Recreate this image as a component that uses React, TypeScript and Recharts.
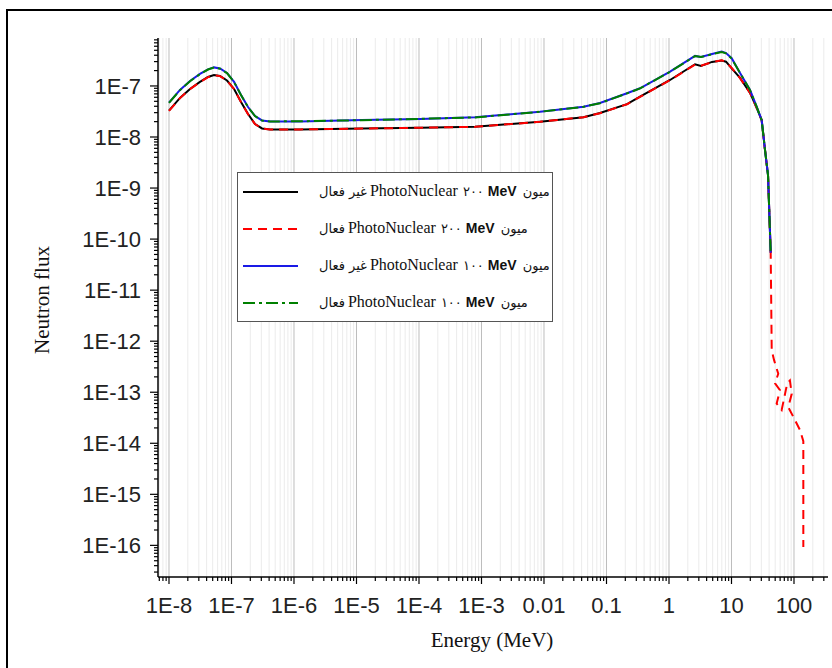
import React from "react";
import { LineChart, Line, XAxis, YAxis, CartesianGrid, Legend } from "recharts";

// Shared energy grid (MeV) for the four main curves
const energyMeV = [
  1.0e-8, 1.5e-8, 2.17e-8, 3.13e-8, 4.21e-8, 5.25e-8, 6.55e-8, 8.47e-8, 1.1e-7, 1.42e-7,
  1.84e-7, 2.38e-7, 3.08e-7, 4.13e-7, 1.25e-6, 1.22e-5, 1.04e-4, 7.87e-4, 8.63e-3,
  4.29e-2, 7.87e-2, 0.213, 0.344, 1.04, 2.61, 3.25, 4.88, 6.97, 8.17, 10.07, 13.7,
  19.8, 25.3, 30.4, 34.4, 38.4, 42.4,
];

// 200 MeV muon, PhotoNuclear inactive (black)
const flux200Inactive = [
  3.28e-8, 5.82e-8, 8.73e-8, 1.2e-7, 1.5e-7, 1.64e-7, 1.57e-7, 1.28e-7, 8.73e-8, 4.85e-8,
  2.82e-8, 1.8e-8, 1.47e-8, 1.4e-8, 1.4e-8, 1.47e-8, 1.51e-8, 1.59e-8, 2.0e-8,
  2.43e-8, 2.95e-8, 4.4e-8, 6.17e-8, 1.31e-7, 2.66e-7, 2.47e-7, 2.96e-7, 3.16e-7, 2.99e-7,
  2.22e-7, 1.44e-7, 7.29e-8, 3.71e-8, 2.15e-8, 5.56e-9, 1.8e-9, 5.4e-11,
];

// 200 MeV muon, PhotoNuclear active (red dashed)
const flux200Active = [
  3.25e-8, 5.78e-8, 8.68e-8, 1.19e-7, 1.49e-7, 1.63e-7, 1.56e-7, 1.27e-7, 8.7e-8, 4.82e-8,
  2.8e-8, 1.79e-8, 1.46e-8, 1.41e-8, 1.41e-8, 1.46e-8, 1.52e-8, 1.58e-8, 1.99e-8,
  2.44e-8, 2.93e-8, 4.38e-8, 6.12e-8, 1.3e-7, 2.62e-7, 2.5e-7, 2.93e-7, 3.2e-7, 2.95e-7,
  2.25e-7, 1.42e-7, 7.3e-8, 3.7e-8, 2.14e-8, 5.5e-9, 1.78e-9, 5.2e-11,
];

// Extra tail of the 200 MeV active curve (red dashed)
const tailEnergy200Active = [44, 47.9, 56, 49.7, 59.7, 52.8, 63.5, 78, 86, 92, 81, 97.5, 125, 141, 141];
const tailFlux200Active = [
  6.6e-13, 4.3e-13, 2.3e-13, 1.5e-13, 1.1e-13, 6e-14, 4.5e-14, 1.5e-13, 1.7e-13,
  9.3e-14, 5.1e-14, 3.3e-14, 1.8e-14, 1.1e-14, 9.3e-17,
];

// 100 MeV muon, PhotoNuclear inactive (blue)
const flux100Inactive = [
  4.71e-8, 8.35e-8, 1.25e-7, 1.72e-7, 2.11e-7, 2.31e-7, 2.2e-7, 1.8e-7, 1.2e-7, 6.66e-8,
  3.87e-8, 2.58e-8, 2.11e-8, 2.01e-8, 2.02e-8, 2.15e-8, 2.26e-8, 2.43e-8, 3.13e-8,
  3.93e-8, 4.64e-8, 7.19e-8, 9.0e-8, 1.91e-7, 3.88e-7, 3.71e-7, 4.24e-7, 4.71e-7, 4.4e-7,
  3.49e-7, 1.8e-7, 8.35e-8, 3.93e-8, 2.15e-8, 5.56e-9, 1.8e-9, 5.4e-11,
];

// 100 MeV muon, PhotoNuclear active (green dash-dot)
const flux100Active = [
  4.68e-8, 8.3e-8, 1.24e-7, 1.71e-7, 2.1e-7, 2.29e-7, 2.18e-7, 1.79e-7, 1.19e-7, 6.62e-8,
  3.85e-8, 2.57e-8, 2.1e-8, 2.02e-8, 2.03e-8, 2.14e-8, 2.27e-8, 2.42e-8, 3.12e-8,
  3.9e-8, 4.6e-8, 7.15e-8, 8.95e-8, 1.9e-7, 3.84e-7, 3.68e-7, 4.2e-7, 4.6e-7, 4.35e-7,
  3.45e-7, 1.79e-7, 8.3e-8, 3.9e-8, 2.14e-8, 5.5e-9, 1.79e-9, 5.3e-11,
];

// Legend text pieces, in the visual order they appear (left to right)
const legendState = ["غير فعال", "فعال", "غير فعال", "فعال"];
const legendEnergy = ["٢٠٠", "٢٠٠", "١٠٠", "١٠٠"];
const legendParticle = ["ميون", "ميون", "ميون", "ميون"];
const legendProcess = "PhotoNuclear";
const legendUnit = "MeV";
const seriesNames = legendState.map(
  (s, i) => `${legendParticle[i]} ${legendEnergy[i]} ${legendUnit} ${legendProcess} ${s}`
);
const seriesColors = ["#000000", "#ff0000", "#1a1ae6", "#008000"];
const seriesDashes = ["", "9 6", "", "12 4 3 4"];

const xTickValues = [1e-8, 1e-7, 1e-6, 1e-5, 1e-4, 1e-3, 0.01, 0.1, 1, 10, 100];
const xTickLabels = ["1E-8", "1E-7", "1E-6", "1E-5", "1E-4", "1E-3", "0.01", "0.1", "1", "10", "100"];
const yTickValues = [1e-16, 1e-15, 1e-14, 1e-13, 1e-12, 1e-11, 1e-10, 1e-9, 1e-8, 1e-7];
const yTickLabels = ["1E-16", "1E-15", "1E-14", "1E-13", "1E-12", "1E-11", "1E-10", "1E-9", "1E-8", "1E-7"];

const X_DOMAIN: [number, number] = [6.67e-9, 350];
const Y_DOMAIN: [number, number] = [2.4e-17, 8.7e-7];

const minorBetween = (dom: [number, number]) => {
  const out: number[] = [];
  const lo = Math.floor(Math.log10(dom[0]));
  const hi = Math.ceil(Math.log10(dom[1]));
  for (let p = lo; p <= hi; p++) {
    for (let k = 2; k <= 9; k++) {
      const v = Number((k * Math.pow(10, p)).toPrecision(3));
      if (v >= dom[0] && v <= dom[1]) out.push(v);
    }
  }
  return out;
};
const xMinor = minorBetween(X_DOMAIN);
const yMinor = minorBetween(Y_DOMAIN);
const xAllTicks = [...xTickValues, ...xMinor].sort((a, b) => a - b);
const yAllTicks = [...yTickValues, ...yMinor].sort((a, b) => a - b);

const majorIndex = (list: number[], v: number) => list.findIndex((m) => Math.abs(m - v) / m < 1e-6);

const toPoints = (es: number[], fs: number[]) => es.map((e, i) => ({ e, f: fs[i] }));
const data200Inactive = toPoints(energyMeV, flux200Inactive);
const data200Active = [...toPoints(energyMeV, flux200Active), ...toPoints(tailEnergy200Active, tailFlux200Active)];
const data100Inactive = toPoints(energyMeV, flux100Inactive);
const data100Active = toPoints(energyMeV, flux100Active);

const TICK_FONT = "'Liberation Sans', Arial, sans-serif";
const SERIF = "'Liberation Serif', 'Times New Roman', serif";
const ARABIC = "'DejaVu Sans', sans-serif";

const XTick = (props: any) => {
  const { x, y, payload } = props;
  const idx = majorIndex(xTickValues, payload.value);
  const major = idx >= 0;
  return (
    <g>
      <line x1={x} x2={x} y1={y} y2={y + (major ? 7 : 4)} stroke="#000" strokeWidth={1.2} />
      {major && (
        <text x={x} y={y + 36} textAnchor="middle" fontSize={22} fontFamily={TICK_FONT} fill="#222">
          {xTickLabels[idx]}
        </text>
      )}
    </g>
  );
};

const YTick = (props: any) => {
  const { x, y, payload } = props;
  const idx = majorIndex(yTickValues, payload.value);
  const major = idx >= 0;
  return (
    <g>
      <line x1={x - (major ? 8 : 4)} x2={x} y1={y} y2={y} stroke="#000" strokeWidth={1.2} />
      {major && (
        <text x={x - 17} y={y + 8} textAnchor="end" fontSize={22} fontFamily={TICK_FONT} fill="#222">
          {yTickLabels[idx]}
        </text>
      )}
    </g>
  );
};

const seg = (extra: React.CSSProperties): React.CSSProperties => ({
  display: "inline-block",
  whiteSpace: "nowrap",
  ...extra,
});

const LegendBox = () => (
  <div
    style={{
      border: "1px solid #555",
      background: "#fff",
      padding: 0,
      boxSizing: "border-box",
      width: 316,
      overflow: "hidden",
    }}
  >
    {legendState.map((state, i) => (
      <div key={i} style={{ display: "flex", alignItems: "center", height: 37 }}>
        <svg width={58} height={10} style={{ flexShrink: 0, marginLeft: 4, marginRight: 19 }}>
          <line
            x1={1}
            x2={56}
            y1={5}
            y2={5}
            stroke={seriesColors[i]}
            strokeWidth={2}
            strokeDasharray={seriesDashes[i] || undefined}
          />
        </svg>
        <div dir="ltr" style={{ whiteSpace: "nowrap", color: "#111", lineHeight: "20px" }}>
          <span dir="rtl" style={seg({ fontFamily: ARABIC, fontSize: 13, marginRight: 3 })}>{state}</span>
          <span style={seg({ fontFamily: SERIF, fontSize: 16, marginRight: 5 })}>{legendProcess}</span>
          <span dir="rtl" style={seg({ fontFamily: ARABIC, fontSize: 13, marginRight: 4 })}>{legendEnergy[i]}</span>
          <span style={seg({ fontFamily: TICK_FONT, fontWeight: 700, fontSize: 14, marginRight: 6 })}>{legendUnit}</span>
          <span dir="rtl" style={seg({ fontFamily: ARABIC, fontSize: 13 })}>{legendParticle[i]}</span>
        </div>
      </div>
    ))}
  </div>
);

export default function App() {
  return (
    <div style={{ position: "absolute", left: 0, top: 0, width: 832, height: 668, background: "#fff", overflow: "hidden" }}>
      <div
        style={{
          position: "absolute",
          left: 6,
          top: 9,
          width: 900,
          height: 700,
          borderLeft: "2px solid #000",
          borderTop: "2px solid #000",
        }}
      />
      <div style={{ position: "absolute", left: 0, top: 0 }}>
        <LineChart width={832} height={668} margin={{ top: 38, right: 4, bottom: 0, left: 0 }}>
          <CartesianGrid horizontal={false} vertical verticalValues={xMinor} stroke="#ebebeb" strokeWidth={1} />
          <CartesianGrid horizontal={false} vertical verticalValues={xTickValues} stroke="#bdbdbd" strokeWidth={1} />
          <XAxis
            type="number"
            dataKey="e"
            scale="log"
            domain={X_DOMAIN}
            allowDataOverflow
            ticks={xAllTicks}
            interval={0}
            tickSize={0}
            tickMargin={0}
            tickLine={false}
            tick={XTick}
            height={91}
            axisLine={{ stroke: "#000", strokeWidth: 1.5 }}
          />
          <YAxis
            type="number"
            dataKey="f"
            scale="log"
            domain={Y_DOMAIN}
            allowDataOverflow
            ticks={yAllTicks}
            interval={0}
            tickSize={0}
            tickMargin={0}
            tickLine={false}
            tick={YTick}
            width={158}
            axisLine={{ stroke: "#000", strokeWidth: 1.5 }}
          />
          <Legend
            layout="vertical"
            align="center"
            verticalAlign="middle"
            content={() => <LegendBox />}
            wrapperStyle={{ left: 237, top: 172, width: 316 }}
          />
          <Line data={data200Inactive} dataKey="f" name={seriesNames[0]} type="linear" stroke={seriesColors[0]} strokeWidth={2} dot={false} isAnimationActive={false} />
          <Line data={data200Active} dataKey="f" name={seriesNames[1]} type="linear" stroke={seriesColors[1]} strokeWidth={2} strokeDasharray={seriesDashes[1]} dot={false} isAnimationActive={false} />
          <Line data={data100Inactive} dataKey="f" name={seriesNames[2]} type="linear" stroke={seriesColors[2]} strokeWidth={2} dot={false} isAnimationActive={false} />
          <Line data={data100Active} dataKey="f" name={seriesNames[3]} type="linear" stroke={seriesColors[3]} strokeWidth={2} strokeDasharray={seriesDashes[3]} dot={false} isAnimationActive={false} />
        </LineChart>
      </div>
      <svg width={832} height={668} style={{ position: "absolute", left: 0, top: 0, pointerEvents: "none" }}>
        <text x={492} y={647} textAnchor="middle" fontFamily={SERIF} fontSize={21} fill="#111">
          Energy (MeV)
        </text>
        <text
          x={42}
          y={300}
          textAnchor="middle"
          dominantBaseline="central"
          transform="rotate(-90 42 300)"
          fontFamily={SERIF}
          fontSize={21}
          fill="#111"
        >
          Neutron flux
        </text>
      </svg>
    </div>
  );
}
